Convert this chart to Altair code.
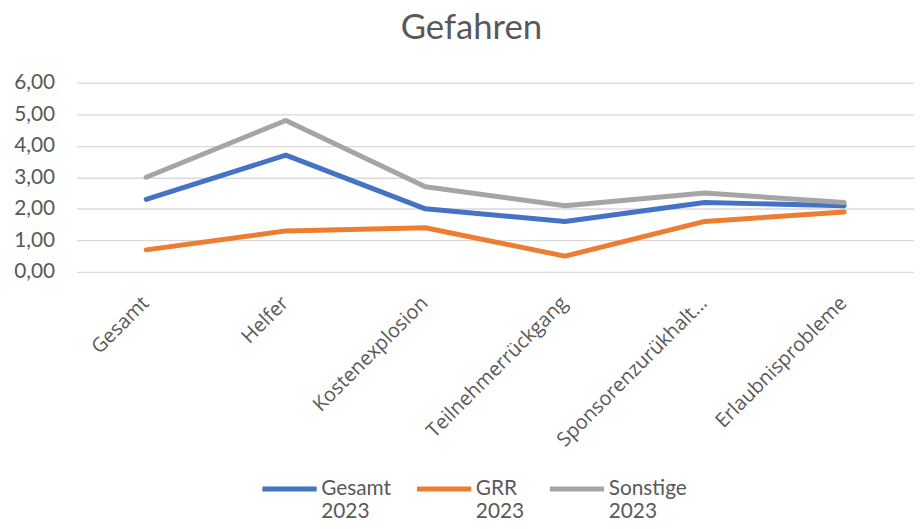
import altair as alt
import pandas as pd

categories = ["Gesamt", "Helfer", "Kostenexplosion", "Teilnehmerrückgang",
              "Sponsorenzurükhalt...", "Erlaubnisprobleme"]
series_names = ["Gesamt 2023", "GRR 2023", "Sonstige 2023"]
gesamt_2023 = [2.3, 3.7, 2.0, 1.6, 2.2, 2.1]
grr_2023 = [0.7, 1.3, 1.4, 0.5, 1.6, 1.9]
sonstige_2023 = [3.0, 4.8, 2.7, 2.1, 2.5, 2.2]
colors = ["#4472C4", "#ED7D31", "#A5A5A5"]

rows = []
for name, vals in zip(series_names, [gesamt_2023, grr_2023, sonstige_2023]):
    for c, v in zip(categories, vals):
        rows.append({"Kategorie": c, "Wert": v, "Serie": name})
df = pd.DataFrame(rows)

chart = alt.Chart(df).mark_line(strokeWidth=5, strokeCap="round", strokeJoin="round").encode(
    x=alt.X("Kategorie:N", sort=categories, title=None,
            scale=alt.Scale(padding=0.5),
            axis=alt.Axis(labelAngle=-45, labelAlign="right", labelBaseline="middle",
                          labelFont="Open Sans", labelFontSize=20, labelColor="#595959",
                          labelPadding=28, labelOffset=-1, domain=False, ticks=False, grid=False,
                          labelOverlap=False, labelLimit=300)),
    y=alt.Y("Wert:Q", title=None,
            scale=alt.Scale(domain=[0, 6], nice=False),
            axis=alt.Axis(values=[0, 1, 2, 3, 4, 5, 6],
                          labelExpr="replace(format(datum.value, '.2f'), '.', ',')",
                          labelFont="Lato", labelFontSize=21, labelColor="#595959",
                          labelPadding=22, domain=False, ticks=False,
                          gridColor="#D9D9D9", gridWidth=1.3)),
    color=alt.Color("Serie:N", sort=series_names,
                    scale=alt.Scale(domain=series_names, range=colors),
                    legend=alt.Legend(title=None, orient="none", direction="horizontal",
                                      legendX=185, legendY=380,
                                      labelExpr="split(datum.label, ' ')",
                                      labelFont="Lato", labelFontSize=21, labelColor="#595959",
                                      labelBaseline="middle", labelOffset=2,
                                      symbolType="stroke", symbolSize=3000,
                                      symbolStrokeWidth=5, columnPadding=15)),
).properties(
    width=845, height=191,
    title=alt.TitleParams("Gefahren", font="Lato", fontSize=35, fontWeight="normal",
                          color="#595959", anchor="middle", dx=-24, offset=26),
    autosize=alt.AutoSizeParams(type="none"),
    padding={"left": 69, "top": 73, "right": 0, "bottom": 249},
).configure_view(stroke=None)

chart.save("out.html", embed_options={"renderer": "svg", "actions": False})
